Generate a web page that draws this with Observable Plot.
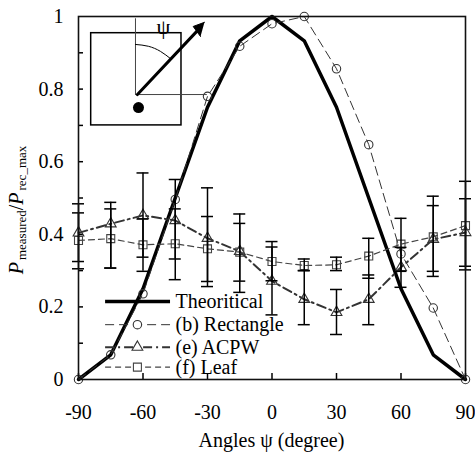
<!DOCTYPE html>
<html><head><meta charset="utf-8">
<script src="https://cdn.jsdelivr.net/npm/d3@7"></script>
<script src="https://cdn.jsdelivr.net/npm/@observablehq/plot@0.6"></script>
<style>
body{margin:0;background:#fff;}
#chart{width:475px;height:454px;}
#chart svg text{font-family:'Liberation Serif','Times New Roman',serif !important;}
</style>
</head><body><div id="chart"></div>
<script>
// ---- data ----
const angles      = [-90, -75, -60, -45, -30, -15, 0, 15, 30, 45, 60, 75, 90];
const theoretical = [0, 0.068, 0.25, 0.5, 0.75, 0.933, 1, 0.933, 0.75, 0.5, 0.25, 0.068, 0];
const rectangle   = [0, 0.068, 0.236, 0.496, 0.78, 0.918, 0.98, 1.0, 0.856, 0.647, 0.346, 0.197, 0];
const acpw        = [0.404, 0.429, 0.452, 0.438, 0.389, 0.353, 0.271, 0.221, 0.185, 0.221, 0.309, 0.386, 0.405];
const acpwLow     = [0.325, 0.307, 0.337, 0.332, 0.256, 0.240, 0.178, 0.151, 0.124, 0.151, 0.254, 0.284, 0.302];
const acpwHigh    = [0.484, 0.488, 0.569, 0.551, 0.528, 0.456, 0.365, 0.300, 0.248, 0.288, 0.364, 0.479, 0.498];
const leaf        = [0.383, 0.388, 0.371, 0.374, 0.360, 0.351, 0.325, 0.314, 0.316, 0.340, 0.373, 0.393, 0.424];
const leafLow     = [0.305, 0.307, 0.298, 0.275, 0.270, 0.271, 0.272, 0.300, 0.300, 0.279, 0.298, 0.298, 0.312];
const leafHigh    = [0.459, 0.470, 0.442, 0.470, 0.449, 0.430, 0.380, 0.332, 0.337, 0.389, 0.444, 0.505, 0.546];
const legendLabels = ["Theoritical", "(b) Rectangle", "(e) ACPW", "(f) Leaf"];
const xTickLabels = [-90, -60, -30, 0, 30, 60, 90];
const yTickLabels = [0, 0.2, 0.4, 0.6, 0.8, 1];
const yMinorTicks = [0.1, 0.2, 0.3, 0.4, 0.5, 0.6, 0.7, 0.8, 0.9];
const xAxisTitle = "Angles ψ (degree)";
const insetLabel = "ψ";

// ---- layout / style ----
const W = 475, H = 454, ML = 78, MR = 10, MT = 16, MB = 75;
const serif = "'Liberation Serif','Times New Roman',serif";
const pxX = (W - ML - MR) / 180;        // px per degree
const pxY = (H - MT - MB);              // px per unit
const capHalf = 6 / pxX;
const keys = ["theo", "rect", "acpw", "leaf"];
const styles = {
  theo: {stroke: "black", strokeWidth: 3.5},
  rect: {stroke: "#333", strokeWidth: 1, strokeDasharray: "9,5", symbol: "circle", r: 4.2},
  acpw: {stroke: "#333", strokeWidth: 2, strokeDasharray: "9,4,2,4", symbol: "triangle", r: 4},
  leaf: {stroke: "#444", strokeWidth: 1.2, strokeDasharray: "6,4", symbol: "square", r: 4.5}
};
const legendY = [0.215, 0.151, 0.089, 0.034];
const legendX1 = -77.4, legendX2 = -47.2, legendMark = -62.6, legendText = -44.9;

const rows = angles.map((a, i) => ({
  a, theo: theoretical[i], rect: rectangle[i], acpw: acpw[i], leaf: leaf[i],
  acpwLow: acpwLow[i], acpwHigh: acpwHigh[i], leafLow: leafLow[i], leafHigh: leafHigh[i]
}));

// inset diagram (in data coordinates)
const inset = {
  box: {x1: -84.1, x2: -42.1, y1: 0.700, y2: 0.954},
  vline: [{x: -63.5, y: 0.994}, {x: -63.5, y: 0.785}],
  hline: [{x: -63.5, y: 0.785}, {x: -30.5, y: 0.785}],
  shaft: [{x: -62.6, y: 0.785}, {x: -35.0, y: 0.959}],
  head: [{x: -31.4, y: 0.984}, {x: -36.65, y: 0.9725}, {x: -33.26, y: 0.945}],
  arc: [{x: -63.5, y: 0.923}, {x: -57.5, y: 0.918}, {x: -51.9, y: 0.904}, {x: -47.0, y: 0.883}],
  dot: {x: -62.1, y: 0.749},
  label: {x: -50.5, y: 0.97}
};

const seriesMarks = [];
for (const k of keys) {
  const s = styles[k];
  seriesMarks.push(Plot.line(rows, {x: "a", y: k, stroke: s.stroke, strokeWidth: s.strokeWidth, strokeDasharray: s.strokeDasharray}));
  if (s.symbol) seriesMarks.push(Plot.dot(rows, {x: "a", y: k, symbol: s.symbol, r: s.r, stroke: s.stroke, strokeWidth: 1.1, fill: "none"}));
}

const errMarks = [];
for (const [lo, hi] of [["acpwLow", "acpwHigh"], ["leafLow", "leafHigh"]]) {
  errMarks.push(Plot.ruleX(rows, {x: "a", y1: lo, y2: hi, stroke: "black", strokeWidth: 1.5}));
  errMarks.push(Plot.ruleY(rows, {y: lo, x1: d => d.a - capHalf, x2: d => d.a + capHalf, stroke: "black", strokeWidth: 1.5}));
  errMarks.push(Plot.ruleY(rows, {y: hi, x1: d => d.a - capHalf, x2: d => d.a + capHalf, stroke: "black", strokeWidth: 1.5}));
}

const legendMarks = [];
keys.forEach((k, i) => {
  const s = styles[k];
  const item = [{label: legendLabels[i], y: legendY[i]}];
  legendMarks.push(Plot.ruleY(item, {y: "y", x1: legendX1, x2: legendX2, stroke: s.stroke, strokeWidth: s.strokeWidth, strokeDasharray: s.strokeDasharray}));
  if (s.symbol) legendMarks.push(Plot.dot(item, {x: () => legendMark, y: "y", symbol: s.symbol, r: s.r, stroke: s.stroke, strokeWidth: 1.1, fill: "white"}));
  legendMarks.push(Plot.text(item, {x: () => legendText, y: "y", text: "label", textAnchor: "start", fontSize: 20, fill: "black", fontFamily: serif}));
});

const insetMarks = [
  Plot.rect([inset.box], {x1: "x1", x2: "x2", y1: "y1", y2: "y2", fill: "none", stroke: "black", strokeWidth: 1.5}),
  Plot.line(inset.vline, {x: "x", y: "y", stroke: "#444", strokeWidth: 1}),
  Plot.line(inset.hline, {x: "x", y: "y", stroke: "#444", strokeWidth: 1}),
  Plot.line(inset.arc, {x: "x", y: "y", stroke: "black", strokeWidth: 1, curve: "natural"}),
  Plot.line(inset.shaft, {x: "x", y: "y", stroke: "black", strokeWidth: 3}),
  Plot.line(inset.head, {x: "x", y: "y", stroke: "black", strokeWidth: 1, fill: "black"}),
  Plot.dot([inset.dot], {x: "x", y: "y", r: 5.5, fill: "black"}),
  Plot.text([inset.label], {x: "x", y: "y", text: () => insetLabel, fontSize: 22, fill: "black", fontFamily: serif})
];

const plot = Plot.plot({
  width: W, height: H,
  marginLeft: ML, marginRight: MR, marginTop: MT, marginBottom: MB,
  style: {fontFamily: serif, fontSize: "20px", background: "white", color: "black", overflow: "visible"},
  x: {domain: [-90, 90]},
  y: {domain: [0, 1]},
  marks: [
    Plot.axisX({ticks: xTickLabels, tickSize: 0, tickPadding: 25, tickFormat: d => String(d), label: null, fontSize: 20, fontFamily: serif}),
    Plot.axisY({ticks: yTickLabels, tickSize: 0, tickPadding: 15, tickFormat: d => String(d), label: null, fontSize: 20, fontFamily: serif}),
    Plot.ruleX(xTickLabels, {x: d => d, y1: 0, y2: 6 / pxY, stroke: "black", strokeWidth: 1.5}),
    Plot.ruleY(yMinorTicks, {y: d => d, x1: -90, x2: -90 + 5 / pxX, stroke: "black", strokeWidth: 1.5}),
    ...seriesMarks,
    ...errMarks,
    ...legendMarks,
    ...insetMarks,
    Plot.frame({stroke: "#111", strokeWidth: 1.6})
  ]
});

const svg = d3.select(plot);
const t = svg.append("text")
  .attr("transform", "translate(23,210) rotate(-90)")
  .attr("text-anchor", "middle")
  .attr("font-family", serif).attr("font-size", 20).attr("fill", "black");
t.append("tspan").attr("font-style", "italic").text("P");
t.append("tspan").attr("font-size", 13).attr("dy", 3).attr("dx", 2).text("measured");
t.append("tspan").attr("dy", -3).text("/");
t.append("tspan").attr("font-style", "italic").text("P");
t.append("tspan").attr("font-size", 13).attr("dy", 3).attr("dx", 2).text("rec_max");

svg.append("text")
  .attr("x", ML + (W - ML - MR) / 2).attr("y", 447)
  .attr("text-anchor", "middle")
  .attr("font-family", serif).attr("font-size", 20).attr("fill", "black")
  .text(xAxisTitle);

document.getElementById("chart").appendChild(plot);
</script>
</body></html>
